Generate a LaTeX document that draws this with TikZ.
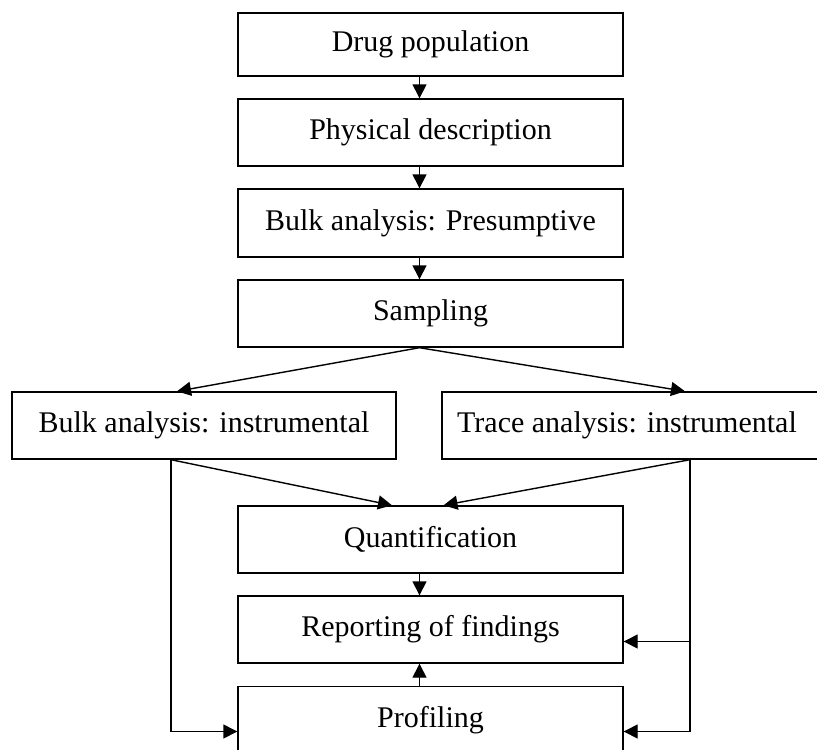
\documentclass[tikz,border=0pt]{standalone}
\usepackage{fontspec}
\setmainfont{Liberation Serif}
\usetikzlibrary{arrows.meta,calc}
\begin{document}
\begin{tikzpicture}[x=1pt,y=-1pt,
  stage/.style={draw, line width=1.4pt, inner sep=0pt, minimum width=385pt,
                minimum height=67pt, font=\fontsize{30}{36}\selectfont},
  caption/.style={inner sep=0pt, font=\fontsize{30}{36}\selectfont},
  link/.style={line width=1.4pt, -{Triangle[length=14pt,width=14pt]}}]
\clip (0,0) rectangle (817,750);
\fill[white] (0,0) rectangle (817,750);

% guide coordinates for connectors
\coordinate (axis) at (419.5,0);
\coordinate (bt) at (177,0);
\coordinate (tt) at (685,0);
\coordinate (lx) at (171,0);
\coordinate (rx) at (690,0);
\coordinate (ql) at (392,0);
\coordinate (qr) at (443.5,0);
\coordinate (ry) at (0,641.5);
\coordinate (py) at (0,731.5);

% main chain
\node[stage, minimum height=63pt] (drug) at (430.5,44.5) {Drug population};
\node[stage] (phys) at (430.5,132.5) {Physical description};
\node[stage, minimum height=68pt] (pres) at (430.5,223) {Bulk analysis: Presumptive};
\node[stage] (samp) at (430.5,313.5) {Sampling};

% two analysis branches
\node[stage, minimum width=384pt] (bulk) at (204,425.5) {Bulk analysis: instrumental};
\node[stage, minimum width=392pt] (trace) at (638,425.5) {};
\node[caption] (tracetext) at (627,425.5) {Trace analysis: instrumental};

% results
\node[stage] (quant) at (430.5,539.5) {Quantification};
\node[stage] (report) at (430.5,629.5) {Reporting of findings};
\node[stage] (profil) at (430.5,720) {Profiling};

% connectors
\draw[link] (drug.south -| axis) -- (phys.north -| axis);
\draw[link] (phys.south -| axis) -- (pres.north -| axis);
\draw[link] (pres.south -| axis) -- (samp.north -| axis);
\draw[link] (samp.south -| axis) -- (bt |- bulk.north);
\draw[link] (samp.south -| axis) -- (tt |- trace.north);
\draw[link] (lx |- bulk.south) -- (ql |- quant.north);
\draw[link] (rx |- trace.south) -- (qr |- quant.north);
\draw[link] (quant.south -| axis) -- (report.north -| axis);
\draw[link] (profil.north -| axis) -- (report.south -| axis);
\draw[link] (lx |- bulk.south) |- (profil.west |- py);
\draw[link] (rx |- trace.south) |- (profil.east |- py);
\draw[link] (rx |- ry) -- (report.east |- ry);
\end{tikzpicture}
\end{document}
